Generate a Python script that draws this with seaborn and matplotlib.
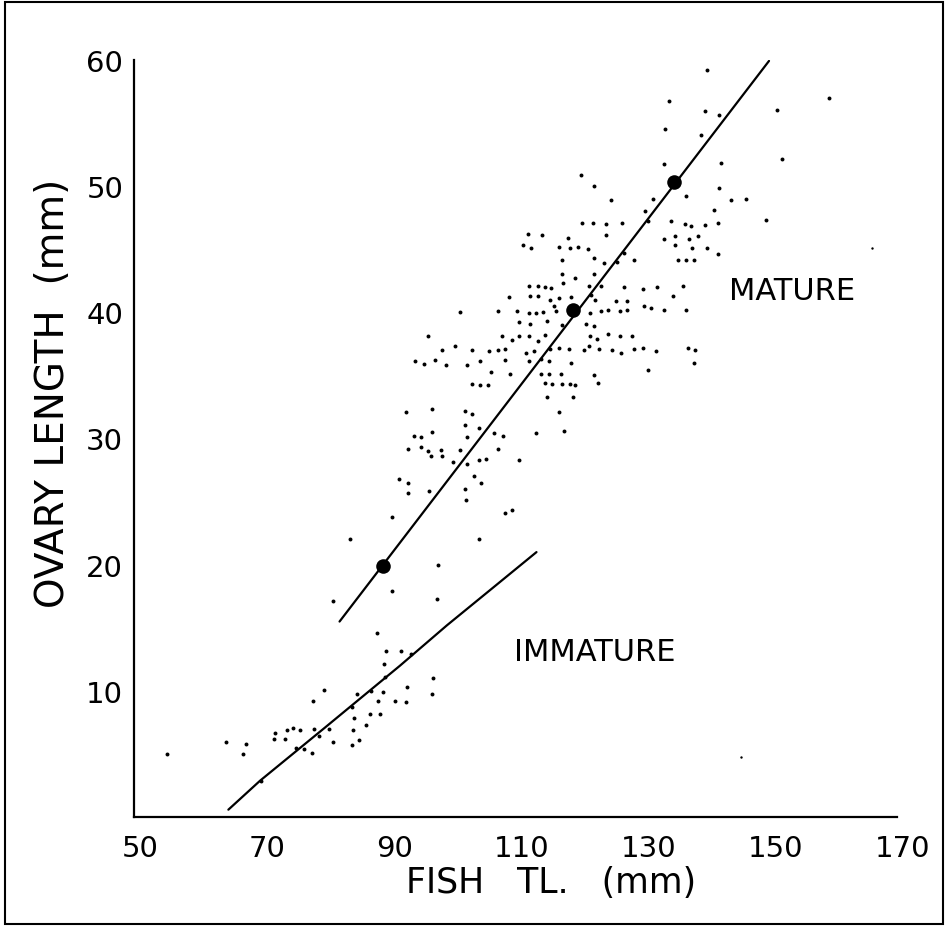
import matplotlib
matplotlib.use("Agg")
import matplotlib.pyplot as plt
import matplotlib.transforms as mtransforms
from matplotlib.patches import Rectangle
import seaborn as sns
import pandas as pd

# ---------------- data ----------------
mature_x = [
    120.3, 122.3, 120.5, 122.2, 112.0, 114.1, 118.3, 111.2, 112.4, 116.9, 118.5, 119.9, 121.4,
    117.3, 122.4, 117.3, 119.4, 122.3, 117.5, 112.1, 113.5, 114.7, 115.6, 121.6, 108.9, 112.3,
    113.5, 115.5, 116.9, 118.7, 116.1, 116.4, 107.2, 110.2, 112.2, 113.3, 114.4, 101.3, 110.5,
    112.3, 115.0, 117.3, 121.7, 121.1, 122.3, 96.2, 107.9, 109.5, 110.5, 112.1, 113.6, 114.6,
    121.7, 122.9, 100.4, 98.5, 103.2, 105.9, 107.2, 108.3, 111.6, 112.9, 115.5, 116.9, 118.4,
    120.7, 121.6, 94.1, 95.6, 97.3, 99.1, 102.3, 104.4, 108.3, 112.2, 114.0, 115.2, 118.7,
    106.2, 109.2, 114.0, 115.3, 117.2, 122.3, 123.0, 103.2, 104.4, 105.6, 114.7, 115.8, 117.3,
    118.6, 119.4, 115.0, 119.1,
    140.1, 134.2, 159.4, 139.8, 142.1, 151.2, 133.5, 139.2, 151.9, 133.3, 142.4, 142.0, 136.9,
    125.1, 131.7, 143.9, 146.2, 130.4, 141.2, 149.4, 130.9, 124.3, 126.7, 134.4, 136.6, 137.6,
    139.8, 141.9, 124.3, 133.3, 135.1, 137.3, 138.8, 135.1, 137.7, 140.1, 141.8, 127.0, 123.9,
    125.9, 128.6, 135.6, 136.9, 138.1, 123.4, 127.0, 130.0, 132.3, 136.3, 134.8, 121.9, 122.5,
    125.8, 127.6, 130.3, 131.3, 133.3, 136.9, 123.5, 124.5, 126.5, 127.5, 124.5, 126.4, 128.3,
    123.2, 125.2, 126.6, 128.6, 130.0, 132.1, 137.2, 138.3, 138.1, 130.9,
    92.8, 96.9, 102.0, 103.2, 116.9, 102.1, 104.3, 96.9, 94.0, 95.2, 102.3, 106.6, 108.1,
    113.2, 117.6, 93.0, 95.2, 96.3, 96.7, 98.2, 98.4, 101.3, 107.3, 100.2, 102.3, 104.2,
    105.3, 110.5, 91.7, 93.1, 93.1, 96.4, 103.5, 104.5, 102.0, 102.2, 109.4, 108.3, 90.5,
    104.2, 84.0, 97.8, 90.5, 97.6, 81.2,
]
mature_y = [
    50.9, 50.0, 47.1, 47.1, 46.2, 46.1, 45.9, 45.3, 45.1, 45.2, 45.1, 45.2, 45.0,
    44.1, 44.3, 43.0, 42.7, 43.0, 42.3, 42.1, 42.1, 42.0, 41.9, 42.1, 41.2, 41.3,
    41.3, 41.0, 41.1, 41.2, 40.5, 40.1, 40.1, 40.1, 39.9, 39.9, 40.0, 40.0, 39.2,
    39.1, 39.3, 39.0, 39.9, 39.1, 38.9, 38.1, 38.1, 37.8, 38.1, 38.1, 37.7, 38.2,
    38.1, 37.9, 37.3, 37.0, 37.0, 36.9, 37.0, 37.1, 36.8, 36.9, 37.1, 37.2, 37.1,
    37.0, 37.3, 36.1, 35.9, 36.2, 35.8, 35.8, 36.1, 36.2, 36.1, 36.3, 36.1, 36.0,
    35.3, 35.1, 35.1, 35.1, 35.1, 35.0, 34.4, 34.3, 34.2, 34.2, 34.4, 34.3, 34.3,
    34.3, 34.2, 33.3, 33.3,
    59.2, 56.7, 57.0, 55.9, 55.6, 56.0, 54.5, 54.0, 52.1, 51.7, 51.8, 49.8, 49.2,
    48.9, 49.0, 48.9, 49.0, 48.0, 48.1, 47.3, 47.2, 47.0, 47.1, 47.2, 47.0, 46.8,
    46.9, 47.1, 46.1, 45.8, 46.0, 45.8, 46.0, 45.3, 45.1, 45.1, 44.6, 44.7, 43.9,
    44.0, 44.1, 44.1, 44.1, 44.1, 42.1, 42.0, 41.8, 42.0, 42.1, 41.3, 41.4, 41.0,
    40.9, 40.9, 40.5, 40.3, 40.2, 40.2, 40.1, 40.2, 40.1, 40.2, 38.3, 38.1, 38.1,
    37.1, 37.0, 36.8, 37.1, 37.2, 36.9, 37.2, 37.0, 36.0, 35.4,
    32.1, 32.3, 32.2, 31.9, 32.1, 31.1, 30.8, 30.5, 30.2, 30.1, 30.1, 30.4, 30.2,
    30.4, 30.6, 29.2, 29.3, 29.0, 28.6, 29.1, 28.6, 29.1, 29.2, 28.1, 28.0, 28.3,
    28.4, 28.3, 26.8, 26.5, 25.7, 25.8, 27.0, 26.5, 26.0, 25.1, 24.3, 24.1, 23.8,
    22.0, 22.0, 20.0, 17.9, 17.3, 17.1,
]

# faint specks
faint_x = [166.1, 145.5]
faint_y = [45.1, 4.8]

immature_x = [
    88.2, 89.6, 91.9, 93.5, 89.3, 89.4, 97.0, 92.9, 79.9, 85.1, 87.2, 89.1, 96.8, 78.2,
    88.4, 91.1, 92.7, 84.3, 84.6, 87.1, 88.7, 86.5, 80.6, 78.3, 76.0, 74.9, 74.1, 72.2,
    72.0, 73.7, 79.1, 81.2, 84.4, 85.3, 84.3, 75.5, 76.7, 77.9, 64.5, 67.5, 67.1, 55.1,
    69.9,
]
immature_y = [
    14.6, 13.2, 13.2, 12.9, 12.1, 11.1, 11.0, 10.3, 10.1, 9.8, 10.0, 9.9, 9.8, 9.2,
    9.2, 9.2, 9.1, 8.7, 7.9, 8.2, 8.2, 7.3, 7.0, 7.0, 6.9, 7.1, 6.9, 6.7,
    6.2, 6.2, 6.4, 6.0, 6.9, 6.1, 5.7, 5.5, 5.4, 5.1, 6.0, 5.8, 5.0, 5.0,
    2.9,
]

means_x = [89.1, 119.1, 135.0]
means_y = [19.9, 40.2, 50.3]

mature_line_x = [82.3, 149.9]
mature_line_y = [15.5, 59.9]

immature_line_x = [64.8, 69.8, 80.0, 91.8, 99.2, 106.5, 113.3]
immature_line_y = [0.6, 2.9, 7.1, 12.0, 15.2, 18.2, 21.0]

x_major = [50, 70, 90, 110, 130, 150, 170]
x_minor = [60, 80, 100, 120, 140, 160]
y_major = [10, 20, 30, 40, 50, 60]
y_minor = [5, 15, 25, 35, 45, 55]

x_title = "FISH   TL.   (mm)"
y_title = "OVARY LENGTH  (mm)"
label_mature = "MATURE"
label_immature = "IMMATURE"

# ---------------- plot ----------------
sns.set_theme(style="white")
plt.rcParams["font.family"] = ["DejaVu Sans"]

fig = plt.figure(figsize=(9.48, 9.29), dpi=100)
ax = fig.add_axes([0.1417, 0.1192, 0.8042, 0.8155])

mat = pd.DataFrame({"x": mature_x, "y": mature_y})
imm = pd.DataFrame({"x": immature_x, "y": immature_y})
faint = pd.DataFrame({"x": faint_x, "y": faint_y})
means = pd.DataFrame({"x": means_x, "y": means_y})
mline = pd.DataFrame({"x": mature_line_x, "y": mature_line_y})
iline = pd.DataFrame({"x": immature_line_x, "y": immature_line_y})

sns.scatterplot(data=mat, x="x", y="y", ax=ax, color="black", s=8, linewidth=0)
sns.scatterplot(data=imm, x="x", y="y", ax=ax, color="black", s=8, linewidth=0)
sns.scatterplot(data=faint, x="x", y="y", ax=ax, color="black", s=3, linewidth=0)
sns.lineplot(data=mline, x="x", y="y", ax=ax, color="black", lw=1.6,
             sort=False, estimator=None)
sns.lineplot(data=iline, x="x", y="y", ax=ax, color="black", lw=1.6,
             sort=False, estimator=None)
sns.scatterplot(data=means, x="x", y="y", ax=ax, color="black", s=110,
                linewidth=0, zorder=5)

ax.set_xlim(50, 170)
ax.set_ylim(0, 60)
sns.despine(ax=ax)
for s in ("left", "bottom"):
    ax.spines[s].set_linewidth(1.6)
    ax.spines[s].set_color("black")

ax.set_xticks(x_major)
ax.set_xticks(x_minor, minor=True)
ax.set_yticks(y_major)
ax.set_yticks(y_minor, minor=True)
ax.set_xticklabels([str(v) for v in x_major])
ax.set_yticklabels([str(v) for v in y_major])

ax.tick_params(axis="both", which="both", direction="in", length=12, width=1.6,
               color="black", labelcolor="black", labelsize=21)
ax.tick_params(axis="x", which="major", pad=12)
ax.tick_params(axis="y", which="major", pad=8)

offset = mtransforms.ScaledTranslation(0.06, 0, fig.dpi_scale_trans)
for lab in ax.get_xticklabels():
    lab.set_transform(lab.get_transform() + offset)

ax.set_xlabel(x_title, fontsize=25, color="black")
ax.set_ylabel(y_title, fontsize=28, color="black")
ax.xaxis.set_label_coords(0.5466, -0.0854)
ax.xaxis.label.set_va("center")
ax.yaxis.set_label_coords(-0.1066, 0.5614)
ax.yaxis.label.set_va("center")

ax.text(153.5, 41.7, label_mature, fontsize=22, ha="center", va="center", color="black")
ax.text(122.5, 13.1, label_immature, fontsize=22, ha="center", va="center", color="black")

fig.patches.append(Rectangle((5 / 948, 4 / 929), 938 / 948, 922 / 929,
                             transform=fig.transFigure, fill=False,
                             lw=1.5, ec="black"))

fig.savefig("out.png", dpi=100)
